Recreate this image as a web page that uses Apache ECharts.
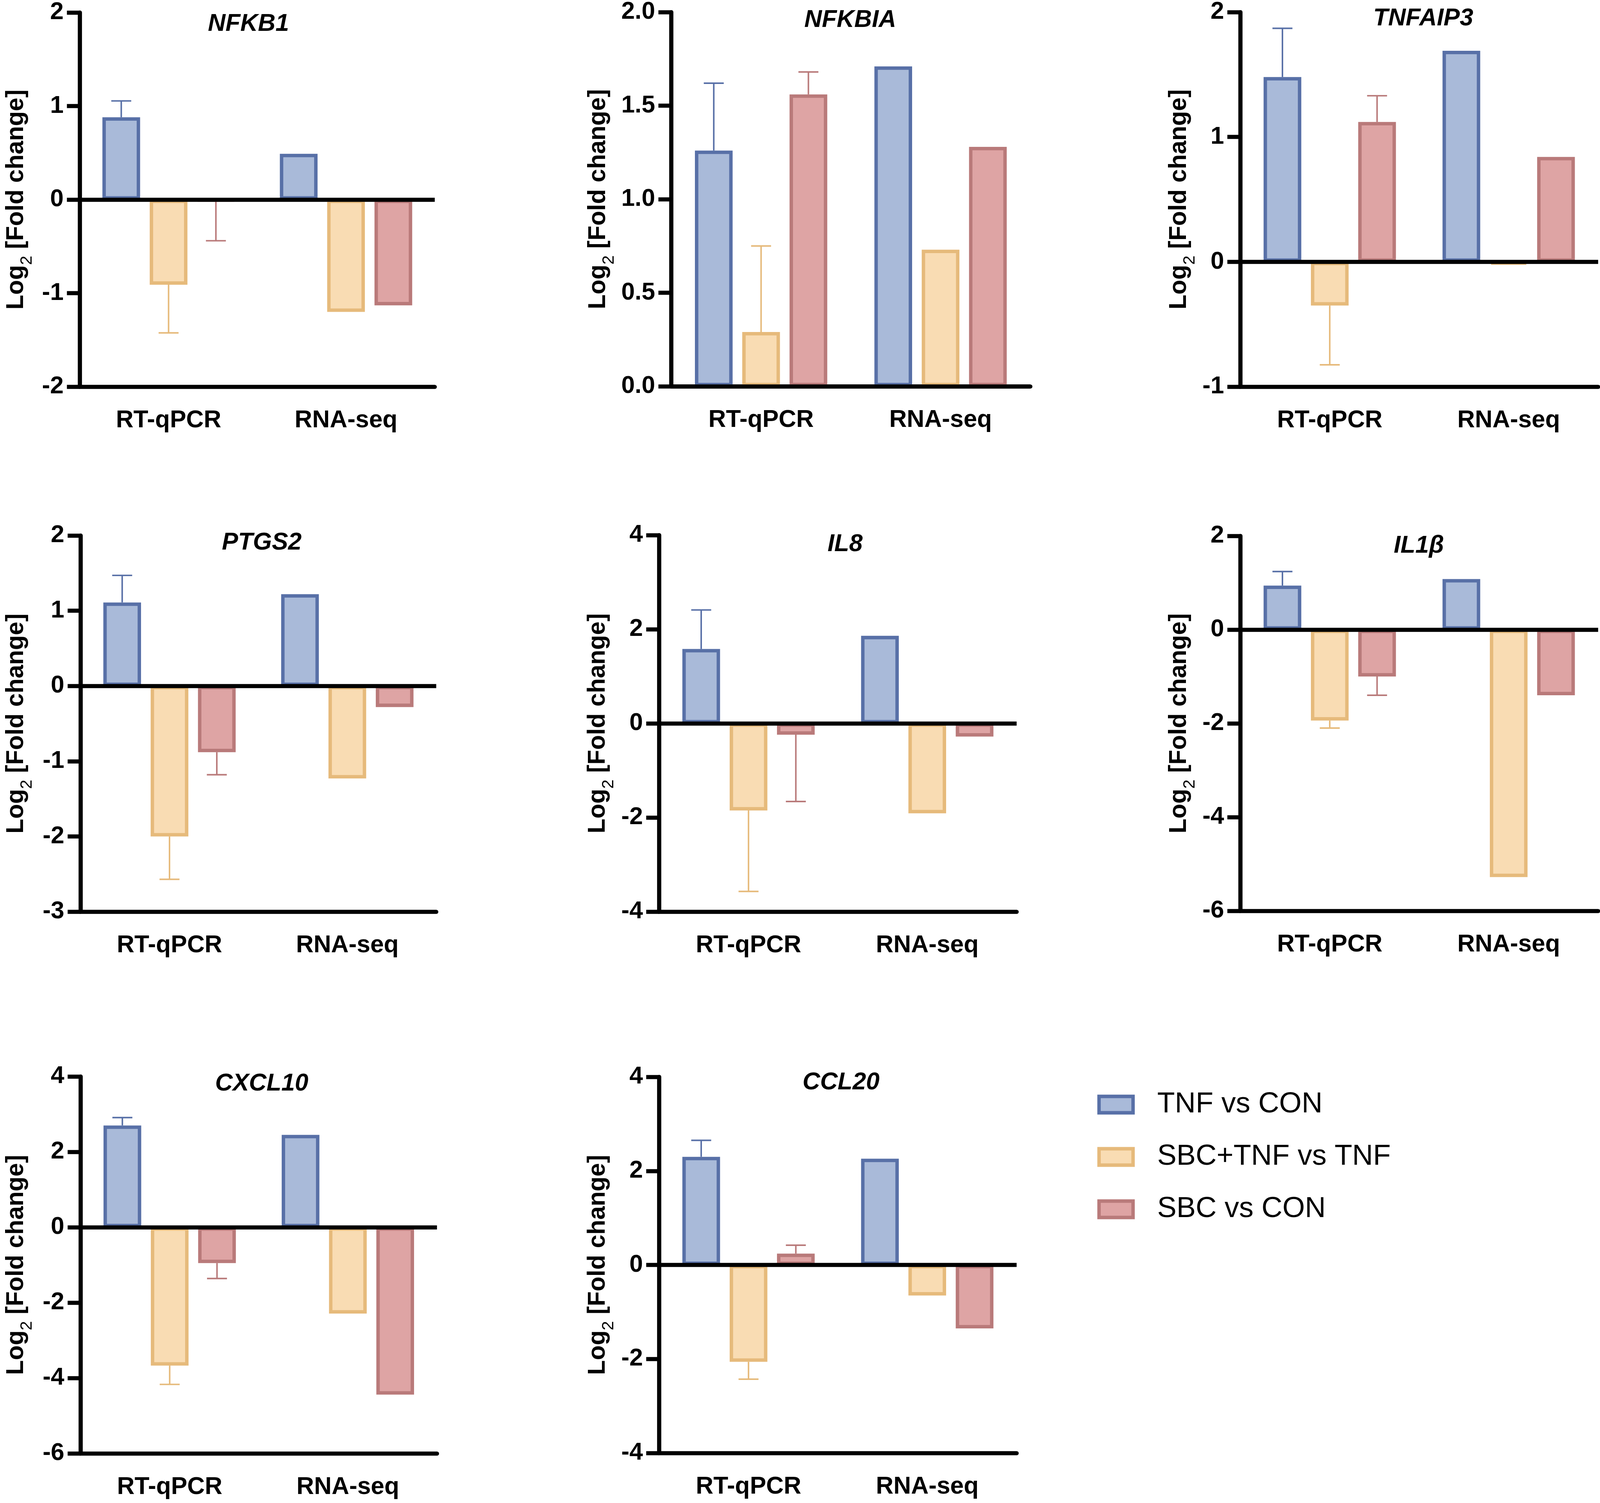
<!DOCTYPE html>
<html><head><meta charset="utf-8">
<script src="https://cdn.jsdelivr.net/npm/echarts@6/dist/echarts.min.js"></script>
<style>html,body{margin:0;padding:0;background:#fff;overflow:hidden}#c{position:absolute;left:0;top:0}</style>
</head><body><div id="c"></div>
<script>
// ---------- data ----------
const genes = ['NFKB1','NFKBIA','TNFAIP3','PTGS2','IL8','IL1β','CXCL10','CCL20'];
const categories = ['RT-qPCR','RNA-seq'];
const seriesNames = ['TNF vs CON','SBC+TNF vs TNF','SBC vs CON'];
// values per gene: [RT-qPCR, RNA-seq]
const tnfVsCon    = [[0.88,0.49],[1.26,1.71],[1.48,1.69],[1.11,1.22],[1.58,1.86],[0.94,1.08],[2.70,2.45],[2.30,2.26]];
const sbcTnfVsTnf = [[-0.91,-1.20],[0.29,0.73],[-0.35,-0.02],[-2.00,-1.23],[-1.85,-1.91],[-1.94,-5.28],[-3.67,-2.29],[-2.06,-0.65]];
const sbcVsCon    = [[-0.01,-1.13],[1.56,1.28],[1.12,0.84],[-0.88,-0.28],[-0.24,-0.28],[-1.00,-1.40],[-0.95,-4.44],[0.24,-1.35]];
// RT-qPCR error bars (one-sided, SEM) per gene
const tnfVsConErr    = [0.175,0.36,0.39,0.36,0.83,0.30,0.21,0.35];
const sbcTnfVsTnfErr = [0.515,0.46,0.475,0.57,1.72,0.16,0.50,0.37];
const sbcVsConErr    = [0.43,0.12,0.21,0.30,1.42,0.40,0.41,0.18];
// y axis ticks
const yMin  = [-2, 0, -1, -3, -4, -6, -6, -4];
const yMax  = [ 2, 2,  2,  2,  4,  2,  4,  4];
const yStep = [ 1, 0.5, 1, 1,  2,  2,  2,  2];
const yDecimals = [0,1,0,0,0,0,0,0];

// ---------- style / layout (designed for 4328x3848, scaled to the viewport) ----------
const REF_W = 4328, REF_H = 3848;
const vw = document.documentElement.clientWidth || window.innerWidth || REF_W;
const vh = document.documentElement.clientHeight || window.innerHeight || REF_H;
const SX = vw / REF_W, SY = vh / REF_H, SF = (SX + SY) / 2;
const qx = v => v * SX, qy = v => v * SY, qf = v => v * SF;
const dom = document.getElementById('c');
dom.style.width = vw + 'px';
dom.style.height = vh + 'px';

const FONT = "'Liberation Sans', Arial, Helvetica, sans-serif";
const fills   = ['#a9bad9','#f9dcb3','#dea4a4'];
const borders = ['#5870a7','#e6ba7b','#b97a7a'];
const BAR_W = 102, BAR_GAP = 26;
// [left, top, width, height, titleX, titleY, nameGap]
const panels = [
  [216, 32, 960, 958, 672, 62, 120],
  [1816, 29, 971, 960, 2300, 52, 146],
  [3355, 30, 968, 960, 3850, 48, 114],
  [218, 1371, 962, 963, 708, 1390, 122],
  [1783, 1370, 967, 964, 2286, 1394, 114],
  [3355, 1372, 968, 960, 3838, 1398, 114],
  [218, 2756, 964, 965, 708, 2775, 122],
  [1783, 2757, 967, 963, 2275, 2772, 114]
];

const vals = [tnfVsCon, sbcTnfVsTnf, sbcVsCon];
const errs = [tnfVsConErr, sbcTnfVsTnfErr, sbcVsConErr];

const grid = [], xAxis = [], yAxis = [], series = [], graphic = [];
genes.forEach((gene, g) => {
  const p = panels[g];
  grid.push({left: qx(p[0]), top: qy(p[1]), width: qx(p[2]), height: qy(p[3]), containLabel: false});
  xAxis.push({
    type: 'category', gridIndex: g, data: categories,
    axisLine: {onZero: false, lineStyle: {color: '#000', width: qf(11)}},
    axisTick: {alignWithLabel: true, length: qy(40), lineStyle: {color: '#000', width: qf(11)}},
    axisLabel: {fontFamily: FONT, fontSize: qf(64), fontWeight: 'bold', color: '#000', margin: qy(56)},
    splitLine: {show: false}
  });
  yAxis.push({
    type: 'value', gridIndex: g, min: yMin[g], max: yMax[g], interval: yStep[g],
    axisLine: {show: true, lineStyle: {color: '#000', width: qf(11)}},
    axisTick: {show: true, length: qx(35), lineStyle: {color: '#000', width: qf(11)}},
    axisLabel: {fontFamily: FONT, fontSize: qf(64), fontWeight: 'bold', color: '#000', margin: qx(44),
      formatter: v => Number(v).toFixed(yDecimals[g])},
    splitLine: {show: false},
    name: '{a|Log}{b|2}{a| [Fold change]}',
    nameLocation: 'middle', nameRotate: 90, nameGap: qx(p[6]),
    nameTextStyle: {
      fontFamily: FONT, fontSize: qf(64), fontWeight: 'bold', color: '#000',
      rich: {
        a: {fontFamily: FONT, fontSize: qf(64), fontWeight: 'bold', color: '#000', verticalAlign: 'top', lineHeight: qf(66)},
        b: {fontFamily: FONT, fontSize: qf(44), fontWeight: 'normal', color: '#000', verticalAlign: 'bottom', lineHeight: qf(82)}
      }
    }
  });
  for (let s = 0; s < 3; s++) {
    const sr = {
      type: 'bar', name: seriesNames[s], xAxisIndex: g, yAxisIndex: g,
      data: vals[s][g], barWidth: qx(BAR_W), barGap: (BAR_GAP / BAR_W * 100) + '%',
      itemStyle: {color: fills[s], borderColor: borders[s], borderWidth: qf(9)},
      emphasis: {disabled: true}
    };
    if (s === 2) {
      sr.markLine = {
        silent: true, symbol: ['none','none'], label: {show: false},
        lineStyle: {color: '#000', width: qf(11), type: 'solid'},
        data: [{yAxis: 0}], animation: false
      };
    }
    series.push(sr);
  }
  series.push({
    type: 'custom', xAxisIndex: g, yAxisIndex: g, z: 3,
    data: [0,1,2].map(s => [0, s, vals[s][g][0], errs[s][g]]),
    encode: {x: 0, y: 2},
    renderItem: (params, api) => {
      const cat = api.value(0), s = api.value(1), v = api.value(2), e = api.value(3);
      const end = v >= 0 ? v + e : v - e;
      const p0 = api.coord([cat, v]);
      const p1 = api.coord([cat, end]);
      const x = p0[0] + (s - 1) * qx(BAR_W + BAR_GAP);
      const st = {stroke: borders[s], lineWidth: qf(4)};
      return {type: 'group', children: [
        {type: 'line', shape: {x1: x, y1: p0[1], x2: x, y2: p1[1]}, style: st},
        {type: 'line', shape: {x1: x - qx(27), y1: p1[1], x2: x + qx(27), y2: p1[1]}, style: st}
      ]};
    }
  });
  graphic.push({
    type: 'text', x: qx(p[4]), y: qy(p[5]),
    style: {text: gene, fontFamily: FONT, fontSize: qf(64), fontWeight: 'bold', fontStyle: 'italic',
      fill: '#000', align: 'center', verticalAlign: 'middle'}
  });
});

const chart = echarts.init(dom, null, {renderer: 'canvas'});
chart.setOption({
  backgroundColor: '#fff',
  animation: false,
  grid, xAxis, yAxis, series, graphic,
  legend: {
    data: seriesNames, orient: 'vertical', left: qx(2963), top: qy(2786),
    itemWidth: qx(92), itemHeight: qy(42), itemGap: qy(60), icon: 'rect', selectedMode: false,
    itemStyle: {borderWidth: qf(9)},
    textStyle: {fontFamily: FONT, fontSize: qf(76), color: '#000', lineHeight: qy(68), padding: [0,0,0,qx(60)]}
  }
});
</script></body></html>
